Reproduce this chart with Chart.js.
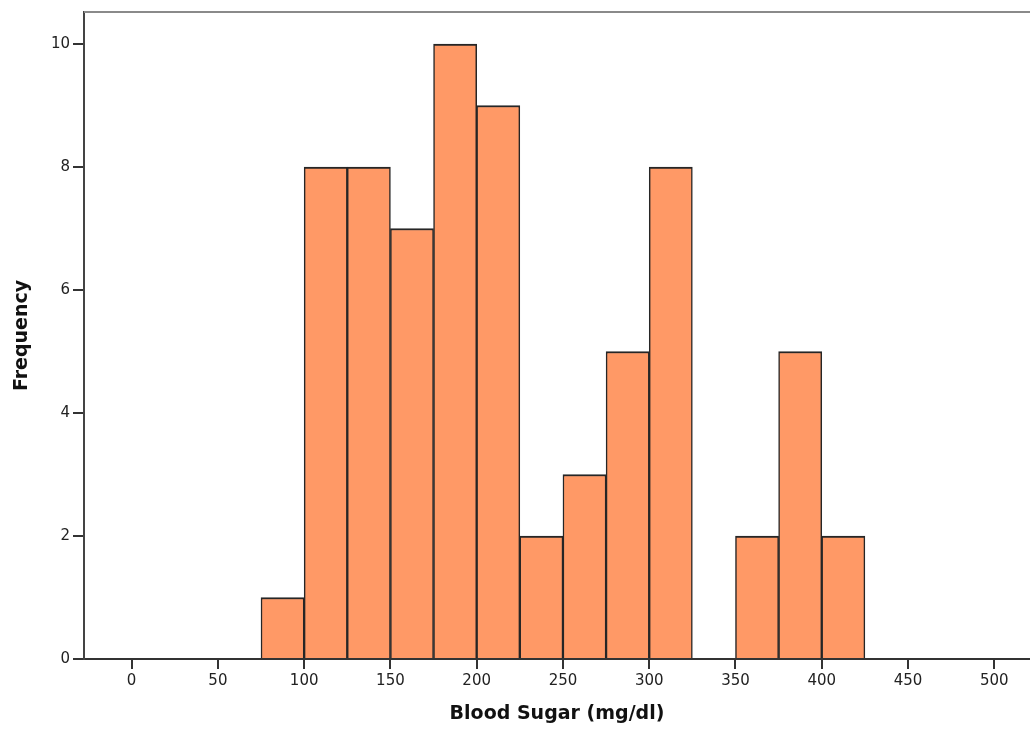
<!DOCTYPE html>
<html>
<head>
<meta charset="utf-8">
<script src="https://cdn.jsdelivr.net/npm/chart.js@4"></script>
<style>
  html, body { margin: 0; padding: 0; background: #fff; }
  #wrap { width: 1030px; height: 729px; }
</style>
</head>
<body>
<div id="wrap"><canvas id="grafico"></canvas></div>
<script>
// bin centres (mg/dl) and counts
const binCentres = [87.5, 112.5, 137.5, 162.5, 187.5, 212.5, 237.5, 262.5, 287.5, 312.5, 362.5, 387.5, 412.5];
const frequencies = [1, 8, 8, 7, 10, 9, 2, 3, 5, 8, 2, 5, 2];
const xTickValues = [0, 50, 100, 150, 200, 250, 300, 350, 400, 450, 500];
const yTickValues = [0, 2, 4, 6, 8, 10];

const topLine = {
    id: 'topLine',
    afterDraw(chart) {
        const ctx = chart.ctx;
        const area = chart.chartArea;
        ctx.save();
        ctx.strokeStyle = '#8a8a8a';
        ctx.lineWidth = 2;
        ctx.beginPath();
        ctx.moveTo(area.left, area.top);
        ctx.lineTo(chart.width, area.top);
        ctx.stroke();
        ctx.restore();
    }
};

document.addEventListener('DOMContentLoaded', function() {
    const canvas = document.getElementById('grafico');
    new Chart(canvas, {
        type: 'bar',
        data: {
            datasets: [{
                data: binCentres.map((x, i) => ({ x: x, y: frequencies[i] })),
                backgroundColor: '#ff9966',
                borderColor: '#262626',
                borderWidth: { top: 2, left: 1.5, right: 1.5, bottom: 0 },
                borderSkipped: false,
                barPercentage: 1,
                categoryPercentage: 1
            }]
        },
        options: {
            responsive: true,
            maintainAspectRatio: false,
            animation: false,
            layout: { padding: { top: 11, right: 0, left: 0, bottom: 0 } },
            plugins: { legend: { display: false }, tooltip: { enabled: false } },
            scales: {
                x: {
                    type: 'linear',
                    offset: false,
                    min: -27.6,
                    max: 520.7,
                    afterBuildTicks: axis => { axis.ticks = xTickValues.map(v => ({ value: v })); },
                    afterFit: axis => { axis.height = 70; },
                    grid: { offset: false, drawOnChartArea: false, drawTicks: true, tickLength: 10, color: '#333', lineWidth: 2 },
                    border: { display: true, color: '#333', width: 2 },
                    ticks: { color: '#222', padding: 3, maxRotation: 0, font: { family: 'DejaVu Sans', size: 15 } },
                    title: {
                        display: true,
                        text: 'Blood Sugar (mg/dl)',
                        color: '#111',
                        font: { family: 'DejaVu Sans', size: 19, weight: 'bold' },
                        padding: { top: 0, bottom: 4 }
                    }
                },
                y: {
                    min: 0,
                    max: 10.52,
                    afterBuildTicks: axis => { axis.ticks = yTickValues.map(v => ({ value: v })); },
                    afterFit: axis => { axis.width = 84; },
                    grid: { drawOnChartArea: false, drawTicks: true, tickLength: 11, color: '#333', lineWidth: 2 },
                    border: { display: true, color: '#444', width: 2 },
                    ticks: { color: '#222', padding: 3, font: { family: 'DejaVu Sans', size: 15 } },
                    title: {
                        display: true,
                        text: 'Frequency',
                        color: '#111',
                        font: { family: 'DejaVu Sans', size: 19, weight: 'bold' },
                        padding: { top: 11, bottom: 0 }
                    }
                }
            }
        },
        plugins: [topLine]
    });
});
</script>
</body>
</html>
